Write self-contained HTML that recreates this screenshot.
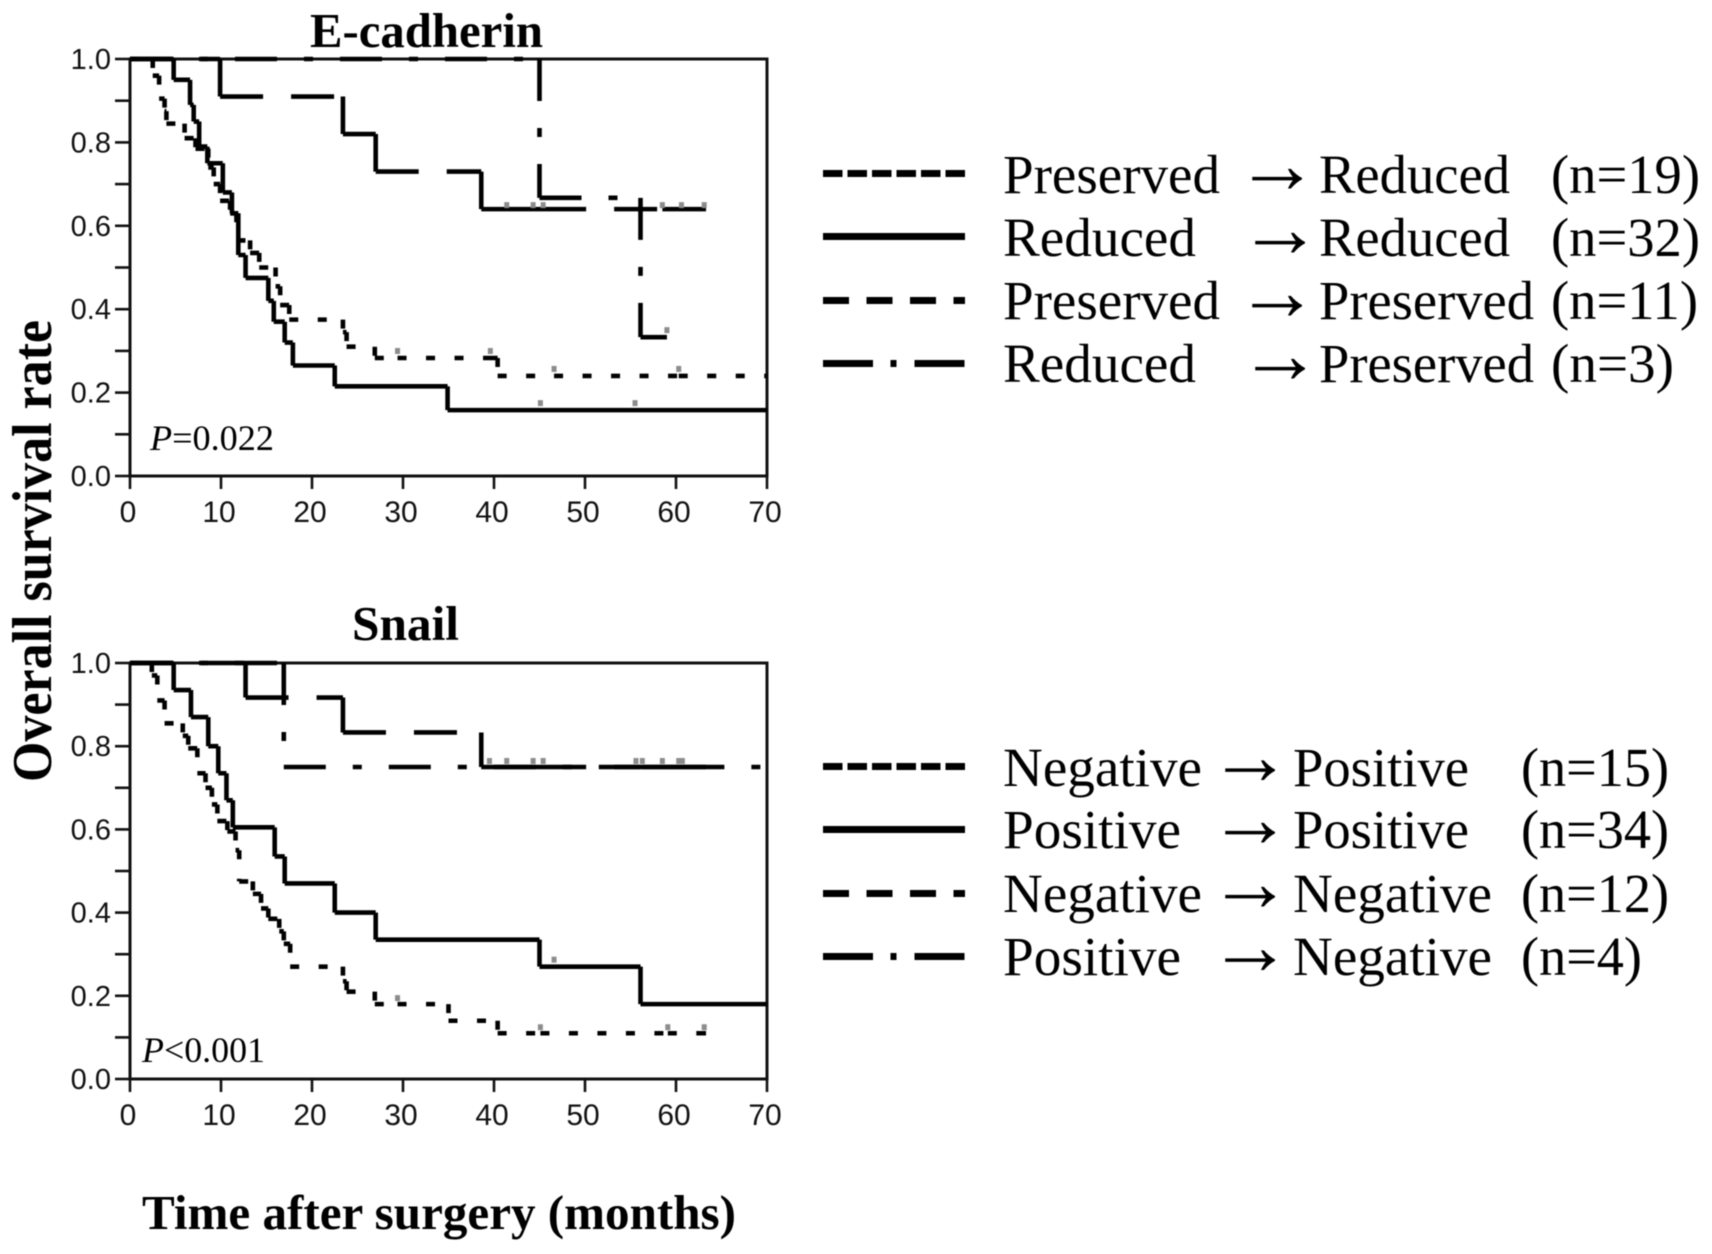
<!DOCTYPE html>
<html lang="en">
<head>
<meta charset="utf-8">
<title>Overall survival by E-cadherin and Snail status</title>
<style>
html,body{margin:0;padding:0;background:#fff;width:1712px;height:1254px;overflow:hidden}
svg{display:block;filter:blur(0.45px)}
.serif{font-family:"Liberation Serif",serif;fill:#000}
.sans{font-family:"Liberation Sans",sans-serif;fill:#111}
.bold{font-weight:700}
.lg{font-size:55px}
.arrow{font-size:84px}
</style>
</head>
<body>
<svg id="figure" width="1712" height="1254" viewBox="0 0 1712 1254" xmlns="http://www.w3.org/2000/svg">
  <rect width="1712" height="1254" fill="#fff"/>
  <text class="serif bold" x="310" y="47" font-size="49" textLength="233" lengthAdjust="spacingAndGlyphs">E-cadherin</text>
  <text class="serif bold" x="352" y="640" font-size="49" textLength="107" lengthAdjust="spacingAndGlyphs">Snail</text>
  <text class="serif bold" x="142" y="1229" font-size="49" textLength="594" lengthAdjust="spacingAndGlyphs">Time after surgery (months)</text>
  <text class="serif bold" transform="translate(51,782) rotate(-90)" x="0" y="0" font-size="56" textLength="462" lengthAdjust="spacingAndGlyphs">Overall survival rate</text>
  <text class="serif" x="150" y="450" font-size="36" textLength="124" lengthAdjust="spacingAndGlyphs"><tspan font-style="italic">P</tspan>=0.022</text>
  <text class="serif" x="142" y="1062" font-size="36" textLength="123" lengthAdjust="spacingAndGlyphs"><tspan font-style="italic">P</tspan>&lt;0.001</text>

  <g id="plots"></g>

  <g class="serif lg">
    <g>
      <line x1="823" x2="965" y1="173.5" y2="173.5" stroke="#000" stroke-width="7" stroke-dasharray="19.5 5"/>
      <text x="1003" y="193" textLength="217" lengthAdjust="spacingAndGlyphs">Preserved</text>
      <text class="arrow" x="1235" y="192.5">→</text>
      <text x="1319" y="193" textLength="191" lengthAdjust="spacingAndGlyphs">Reduced</text>
      <text x="1551" y="193" textLength="149" lengthAdjust="spacingAndGlyphs">(n=19)</text>
    </g>
    <g>
      <line x1="823" x2="965" y1="236.5" y2="236.5" stroke="#000" stroke-width="7"/>
      <text x="1003" y="256" textLength="193" lengthAdjust="spacingAndGlyphs">Reduced</text>
      <text class="arrow" x="1238" y="256.5">→</text>
      <text x="1319" y="256" textLength="191" lengthAdjust="spacingAndGlyphs">Reduced</text>
      <text x="1551" y="256" textLength="149" lengthAdjust="spacingAndGlyphs">(n=32)</text>
    </g>
    <g>
      <line x1="823" x2="965" y1="300.5" y2="300.5" stroke="#000" stroke-width="7" stroke-dasharray="26 17.5"/>
      <text x="1003" y="319" textLength="217" lengthAdjust="spacingAndGlyphs">Preserved</text>
      <text class="arrow" x="1235" y="319.5">→</text>
      <text x="1319" y="319" textLength="215" lengthAdjust="spacingAndGlyphs">Preserved</text>
      <text x="1551" y="319" textLength="147" lengthAdjust="spacingAndGlyphs">(n=11)</text>
    </g>
    <g>
      <line x1="823" x2="965" y1="363.5" y2="363.5" stroke="#000" stroke-width="7" stroke-dasharray="50 17.5 6 18 50"/>
      <text x="1003" y="382" textLength="193" lengthAdjust="spacingAndGlyphs">Reduced</text>
      <text class="arrow" x="1238" y="382.5">→</text>
      <text x="1319" y="382" textLength="215" lengthAdjust="spacingAndGlyphs">Preserved</text>
      <text x="1551" y="382" textLength="123" lengthAdjust="spacingAndGlyphs">(n=3)</text>
    </g>
  </g>

  <g class="serif lg">
    <g>
      <line x1="823" x2="965" y1="766.5" y2="766.5" stroke="#000" stroke-width="7" stroke-dasharray="19.5 5"/>
      <text x="1003" y="786" textLength="199" lengthAdjust="spacingAndGlyphs">Negative</text>
      <text class="arrow" x="1208" y="784">→</text>
      <text x="1293" y="786" textLength="176" lengthAdjust="spacingAndGlyphs">Positive</text>
      <text x="1521" y="786" textLength="148" lengthAdjust="spacingAndGlyphs">(n=15)</text>
    </g>
    <g>
      <line x1="823" x2="965" y1="829.5" y2="829.5" stroke="#000" stroke-width="7"/>
      <text x="1003" y="848" textLength="178" lengthAdjust="spacingAndGlyphs">Positive</text>
      <text class="arrow" x="1208" y="846.5">→</text>
      <text x="1293" y="848" textLength="176" lengthAdjust="spacingAndGlyphs">Positive</text>
      <text x="1521" y="848" textLength="148" lengthAdjust="spacingAndGlyphs">(n=34)</text>
    </g>
    <g>
      <line x1="823" x2="965" y1="893.5" y2="893.5" stroke="#000" stroke-width="7" stroke-dasharray="26 17.5"/>
      <text x="1003" y="912" textLength="199" lengthAdjust="spacingAndGlyphs">Negative</text>
      <text class="arrow" x="1208" y="910.5">→</text>
      <text x="1293" y="912" textLength="199" lengthAdjust="spacingAndGlyphs">Negative</text>
      <text x="1521" y="912" textLength="148" lengthAdjust="spacingAndGlyphs">(n=12)</text>
    </g>
    <g>
      <line x1="823" x2="965" y1="956.5" y2="956.5" stroke="#000" stroke-width="7" stroke-dasharray="50 17.5 6 18 50"/>
      <text x="1003" y="975" textLength="178" lengthAdjust="spacingAndGlyphs">Positive</text>
      <text class="arrow" x="1208" y="974">→</text>
      <text x="1293" y="975" textLength="199" lengthAdjust="spacingAndGlyphs">Negative</text>
      <text x="1521" y="975" textLength="121" lengthAdjust="spacingAndGlyphs">(n=4)</text>
    </g>
  </g>
</svg>

<script>
// Axis ticks
const xTickLabels = [0, 10, 20, 30, 40, 50, 60, 70];
const yTickLabels = [0.0, 0.2, 0.4, 0.6, 0.8, 1.0];
const yMinorTicks = [0.1, 0.3, 0.5, 0.7, 0.9];

// E-cadherin: Preserved -> Reduced
const ecadPRTimes = [2.5, 3.2, 3.8, 4.0, 6.0, 7.2, 8.6, 9.2, 9.9, 11.0, 11.7, 13.2, 14.2, 16.0, 16.5, 17.5, 23.4, 23.8, 26.9, 40.4];
const ecadPRSurv = [0.96, 0.905, 0.875, 0.845, 0.81, 0.785, 0.74, 0.70, 0.66, 0.63, 0.565, 0.535, 0.50, 0.455, 0.41, 0.375, 0.345, 0.31, 0.283, 0.24];
const ecadPRCensor = [29.4, 39.6, 46.6, 60.3];
const ecadPREnd = 70;

// E-cadherin: Reduced -> Reduced
const ecadRRTimes = [4.8, 6.6, 7.0, 7.6, 8.5, 10.2, 11.2, 11.9, 12.7, 15.2, 15.8, 17.0, 17.9, 22.5, 34.9];
const ecadRRSurv = [0.95, 0.89, 0.85, 0.79, 0.75, 0.68, 0.63, 0.53, 0.475, 0.42, 0.37, 0.32, 0.265, 0.215, 0.158];
const ecadRRCensor = [45.1, 55.5];
const ecadRREnd = 70;

// E-cadherin: Preserved -> Preserved
const ecadPPTimes = [9.9, 23.4, 27.0, 38.6];
const ecadPPSurv = [0.91, 0.82, 0.73, 0.64];
const ecadPPCensor = [41.4, 44.3, 45.4, 58.5, 60.6, 63.1];
const ecadPPEnd = 63.3;

// E-cadherin: Reduced -> Preserved
const ecadRPTimes = [45.0, 56.1];
const ecadRPSurv = [0.667, 0.333];
const ecadRPCensor = [59.0];
const ecadRPEnd = 59.0;

// Snail: Negative -> Positive
const snailNPTimes = [2.4, 3.0, 3.8, 5.8, 6.4, 7.4, 8.3, 9.0, 9.6, 10.7, 11.6, 12.0, 13.5, 14.4, 15.2, 16.4, 16.9, 17.6, 23.4, 23.8, 26.9, 35.0, 40.4];
const snailNPSurv = [0.97, 0.91, 0.855, 0.825, 0.795, 0.735, 0.70, 0.66, 0.62, 0.595, 0.55, 0.475, 0.445, 0.41, 0.385, 0.355, 0.325, 0.27, 0.235, 0.21, 0.18, 0.14, 0.11];
const snailNPCensor = [29.4, 45.1, 59.1, 63.1];
const snailNPEnd = 63.3;

// Snail: Positive -> Positive
const snailPPTimes = [4.8, 6.7, 8.6, 9.7, 10.6, 11.3, 15.9, 17.0, 22.5, 27.0, 45.0, 56.1];
const snailPPSurv = [0.935, 0.87, 0.80, 0.735, 0.67, 0.605, 0.535, 0.47, 0.40, 0.335, 0.27, 0.18];
const snailPPCensor = [46.6];
const snailPPEnd = 70;

// Snail: Negative -> Negative
const snailNNTimes = [12.7, 23.4, 38.6];
const snailNNSurv = [0.917, 0.833, 0.75];
const snailNNCensor = [39.5, 41.4, 44.3, 45.4, 55.6, 58.5, 60.3];
const snailNNEnd = 63.3;

// Snail: Positive -> Negative
const snailPNTimes = [16.9];
const snailPNSurv = [0.75];
const snailPNCensor = [56.3, 60.7];
const snailPNEnd = 70;

const SVG_NS = 'http://www.w3.org/2000/svg';
const plotsLayer = document.getElementById('plots');
const DASH_SHORT = '9 19.5';
const DASH_LONG = '43 28';
const DASH_DOT = '42 27 9 27';

function axisX(panel, t) { return panel.left + (t / 70) * (panel.right - panel.left); }
function axisY(panel, s) { return panel.bottom - s * (panel.bottom - panel.top); }

function buildStepPath(panel, times, surv, censor, end) {
  let d = '';
  let t0 = 0;
  let s0 = 1;
  const horizontal = function (a, b, s) {
    const cuts = censor.filter(function (c) { return c > a && c < b; });
    const stops = [a].concat(cuts, [b]);
    for (let i = 0; i < stops.length - 1; i++) {
      d += 'M' + axisX(panel, stops[i]) + ' ' + axisY(panel, s) + 'L' + axisX(panel, stops[i + 1]) + ' ' + axisY(panel, s);
    }
  };
  for (let i = 0; i < times.length; i++) {
    horizontal(t0, times[i], s0);
    d += 'M' + axisX(panel, times[i]) + ' ' + axisY(panel, s0) + 'L' + axisX(panel, times[i]) + ' ' + axisY(panel, surv[i]);
    t0 = times[i];
    s0 = surv[i];
  }
  if (end > t0) horizontal(t0, end, s0);
  return d;
}

function survivalAt(times, surv, t) {
  let s = 1;
  for (let i = 0; i < times.length; i++) { if (times[i] <= t) s = surv[i]; }
  return s;
}

function drawAxes(panel) {
  const g = document.createElementNS(SVG_NS, 'g');
  
  
  plotsLayer.appendChild(g);

  const box = document.createElementNS(SVG_NS, 'rect');
  
  
  box.setAttribute('x', panel.left);
  box.setAttribute('y', panel.top);
  box.setAttribute('width', panel.right - panel.left);
  box.setAttribute('height', panel.bottom - panel.top);
  box.setAttribute('fill', 'none');
  box.setAttribute('stroke', '#111');
  box.setAttribute('stroke-width', '3');
  g.appendChild(box);

  xTickLabels.forEach(function (v) {
    const tick = document.createElementNS(SVG_NS, 'line');
    
    
    tick.setAttribute('x1', axisX(panel, v));
    tick.setAttribute('x2', axisX(panel, v));
    tick.setAttribute('y1', panel.bottom);
    tick.setAttribute('y2', panel.bottom + 13);
    tick.setAttribute('stroke', '#111');
    tick.setAttribute('stroke-width', '2.6');
    g.appendChild(tick);

    const label = document.createElementNS(SVG_NS, 'text');
    
    
    label.setAttribute('class', 'sans');
    label.setAttribute('font-size', '30');
    label.setAttribute('text-anchor', 'middle');
    label.setAttribute('x', axisX(panel, v) - 2);
    label.setAttribute('y', panel.bottom + 46);
    label.textContent = String(v);
    g.appendChild(label);
  });

  yTickLabels.forEach(function (v) {
    const tick = document.createElementNS(SVG_NS, 'line');
    
    
    tick.setAttribute('x1', panel.left - 15);
    tick.setAttribute('x2', panel.left);
    tick.setAttribute('y1', axisY(panel, v));
    tick.setAttribute('y2', axisY(panel, v));
    tick.setAttribute('stroke', '#111');
    tick.setAttribute('stroke-width', '2.6');
    g.appendChild(tick);

    const label = document.createElementNS(SVG_NS, 'text');
    
    
    label.setAttribute('class', 'sans');
    label.setAttribute('font-size', '29');
    label.setAttribute('text-anchor', 'end');
    label.setAttribute('x', panel.left - 19);
    label.setAttribute('y', axisY(panel, v) + 10);
    label.textContent = v.toFixed(1);
    g.appendChild(label);
  });

  yMinorTicks.forEach(function (v) {
    const tick = document.createElementNS(SVG_NS, 'line');
    
    
    tick.setAttribute('x1', panel.left - 15);
    tick.setAttribute('x2', panel.left);
    tick.setAttribute('y1', axisY(panel, v));
    tick.setAttribute('y2', axisY(panel, v));
    tick.setAttribute('stroke', '#111');
    tick.setAttribute('stroke-width', '2.6');
    g.appendChild(tick);
  });
}

function drawSeries(panel, seriesName, times, surv, censor, end, dash, censorLift) {
  const path = document.createElementNS(SVG_NS, 'path');
  
  
  path.setAttribute('d', buildStepPath(panel, times, surv, censor, end));
  path.setAttribute('fill', 'none');
  path.setAttribute('stroke', '#000');
  path.setAttribute('stroke-width', '4.6');
  if (dash) path.setAttribute('stroke-dasharray', dash);
  plotsLayer.appendChild(path);

  censor.forEach(function (c) {
    const mark = document.createElementNS(SVG_NS, 'rect');
    
    
    mark.setAttribute('x', axisX(panel, c) - 2.5);
    mark.setAttribute('y', axisY(panel, survivalAt(times, surv, c)) - censorLift - 3);
    mark.setAttribute('width', '5');
    mark.setAttribute('height', '6');
    mark.setAttribute('fill', '#8c8c8c');
    plotsLayer.appendChild(mark);
  });
}

const ecadPanel = { name: 'ecadherin', left: 130, right: 767, top: 59, bottom: 476 };
const snailPanel = { name: 'snail', left: 130, right: 767, top: 663, bottom: 1079 };

drawAxes(ecadPanel);
drawSeries(ecadPanel, 'preserved-reduced', ecadPRTimes, ecadPRSurv, ecadPRCensor, ecadPREnd, DASH_SHORT, 7);
drawSeries(ecadPanel, 'reduced-reduced', ecadRRTimes, ecadRRSurv, ecadRRCensor, ecadRREnd, null, 7);
drawSeries(ecadPanel, 'preserved-preserved', ecadPPTimes, ecadPPSurv, ecadPPCensor, ecadPPEnd, DASH_LONG, 4);
drawSeries(ecadPanel, 'reduced-preserved', ecadRPTimes, ecadRPSurv, ecadRPCensor, ecadRPEnd, DASH_DOT, 7);

drawAxes(snailPanel);
drawSeries(snailPanel, 'negative-positive', snailNPTimes, snailNPSurv, snailNPCensor, snailNPEnd, DASH_SHORT, 6);
drawSeries(snailPanel, 'positive-positive', snailPPTimes, snailPPSurv, snailPPCensor, snailPPEnd, null, 7);
drawSeries(snailPanel, 'negative-negative', snailNNTimes, snailNNSurv, snailNNCensor, snailNNEnd, DASH_LONG, 6);
drawSeries(snailPanel, 'positive-negative', snailPNTimes, snailPNSurv, snailPNCensor, snailPNEnd, DASH_DOT, 6);
</script>
</body>
</html>
